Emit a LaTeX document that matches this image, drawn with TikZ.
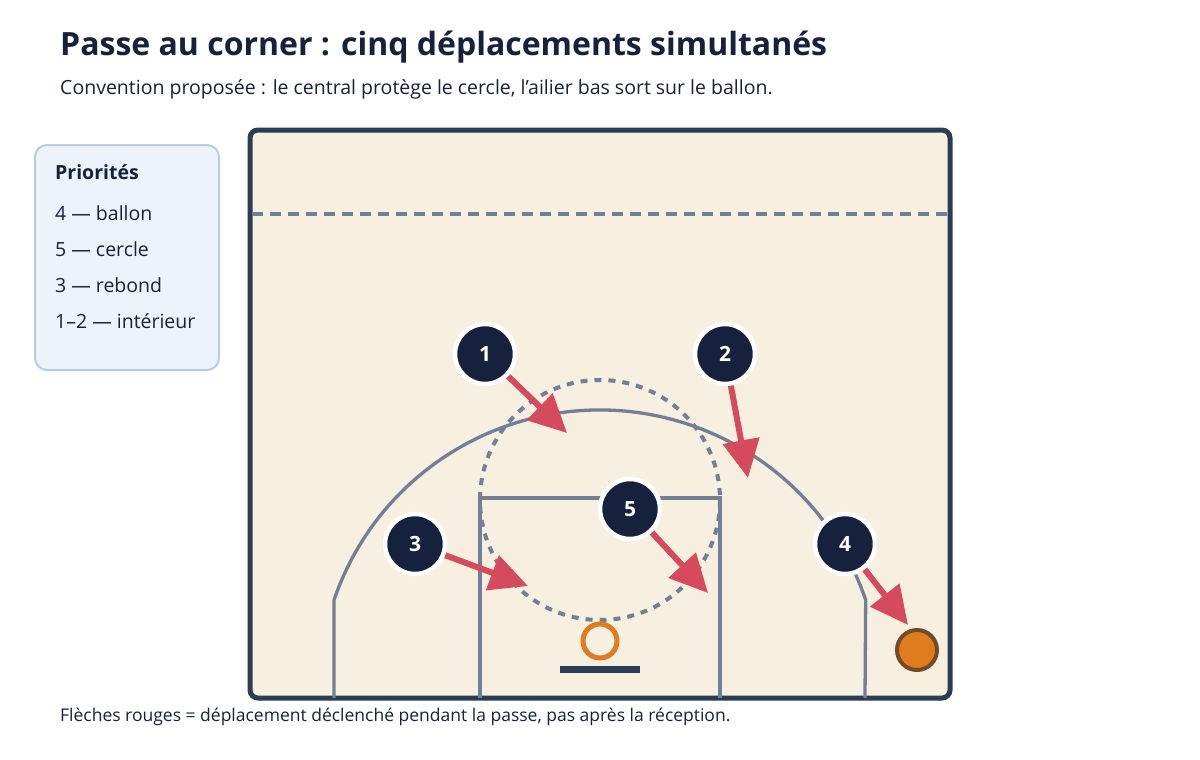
\documentclass[tikz,border=0pt]{standalone}
\usepackage{fontspec}
\setmainfont{Open Sans}
\usetikzlibrary{arrows.meta}
\definecolor{navy}{HTML}{16213E}
\definecolor{court}{HTML}{F7EFE0}
\definecolor{edge}{HTML}{2B3D55}
\definecolor{line}{HTML}{718096}
\definecolor{red1}{HTML}{D64A5E}
\definecolor{org}{HTML}{E07B20}
\definecolor{legf}{HTML}{EDF3FB}
\definecolor{legs}{HTML}{B8CCE4}
\begin{document}
\begin{tikzpicture}[x=1pt,y=-1pt,
  player/.style={circle,fill=navy,draw=white,line width=4.5pt,minimum size=60pt,inner sep=0pt,text=white,font=\bfseries\fontsize{21}{21}\selectfont},
  move/.style={red1,line width=6pt,-{Triangle[length=38pt,width=36pt]}},
  ctline/.style={line,line width=3.3pt},
  txt/.style={anchor=west,inner sep=0pt,text=navy}]
\useasboundingbox (0,0) rectangle (1200,760);
\fill[white] (0,0) rectangle (1200,760);
\node[txt,font=\bfseries\fontsize{32}{32}\selectfont] (title) at (60,47) {Passe au corner : cinq déplacements simultanés};
\node[txt,font=\fontsize{19.5}{19.5}\selectfont] (sub) at (60,89) {Convention proposée : le central protège le cercle, l’ailier bas sort sur le ballon.};
\node[txt,font=\fontsize{17.5}{17.5}\selectfont] (foot) at (60,717) {Flèches rouges = déplacement déclenché pendant la passe, pas après la réception.};
% legend
\draw[fill=legf,draw=legs,line width=2pt,rounded corners=12pt] (35,145) rectangle (219,370);
\node[txt,font=\bfseries\fontsize{19.5}{19.5}\selectfont] (lt) at (55,172) {Priorités};
\node[txt,font=\fontsize{19.5}{19.5}\selectfont] (l1) at (55,213) {4 — ballon};
\node[txt,font=\fontsize{19.5}{19.5}\selectfont] (l2) at (55,249) {5 — cercle};
\node[txt,font=\fontsize{19.5}{19.5}\selectfont] (l3) at (55,285) {3 — rebond};
\node[txt,font=\fontsize{19.5}{19.5}\selectfont] (l4) at (55,321) {1–2 — intérieur};
% court
\draw[fill=court,draw=edge,line width=5pt,rounded corners=8pt] (250,130) rectangle (950,698);
\draw[ctline,dash pattern=on 11pt off 7pt] (252,214) -- (948,214);
\draw[ctline] (334,698) -- (334,600) arc[start angle=-161.1,end angle=-18.9,radius=281] -- (865,698);
\draw[ctline] (480,698) -- (480,498) -- (720,498) -- (720,698);
\draw[ctline,line width=4pt,dash pattern=on 7pt off 7pt] (600,500) circle[radius=120];
\draw[edge,line width=7pt] (560,669) -- (640,669);
\draw[org,line width=5pt] (600,641) circle[radius=17];
% ball
\node[circle,fill=org,draw=brown!60!black,line width=4pt,minimum size=40pt,inner sep=0pt] (ball) at (917,650) {};
% players
\node[player] (p1) at (485,354) {1};
\node[player] (p2) at (725,354) {2};
\node[player] (p3) at (415,544) {3};
\node[player] (p5) at (630,509) {5};
\node[player] (p4) at (845,544) {4};
\coordinate (t1) at (567,433);
\coordinate (t2) at (748,478);
\coordinate (t3) at (528,586);
\coordinate (t5) at (708,593);
\coordinate (t4) at (908,625);
\draw[move] (p1) -- (t1);
\draw[move] (p2) -- (t2);
\draw[move] (p3) -- (t3);
\draw[move] (p5) -- (t5);
\draw[move] (p4) -- (t4);
\end{tikzpicture}
\end{document}
